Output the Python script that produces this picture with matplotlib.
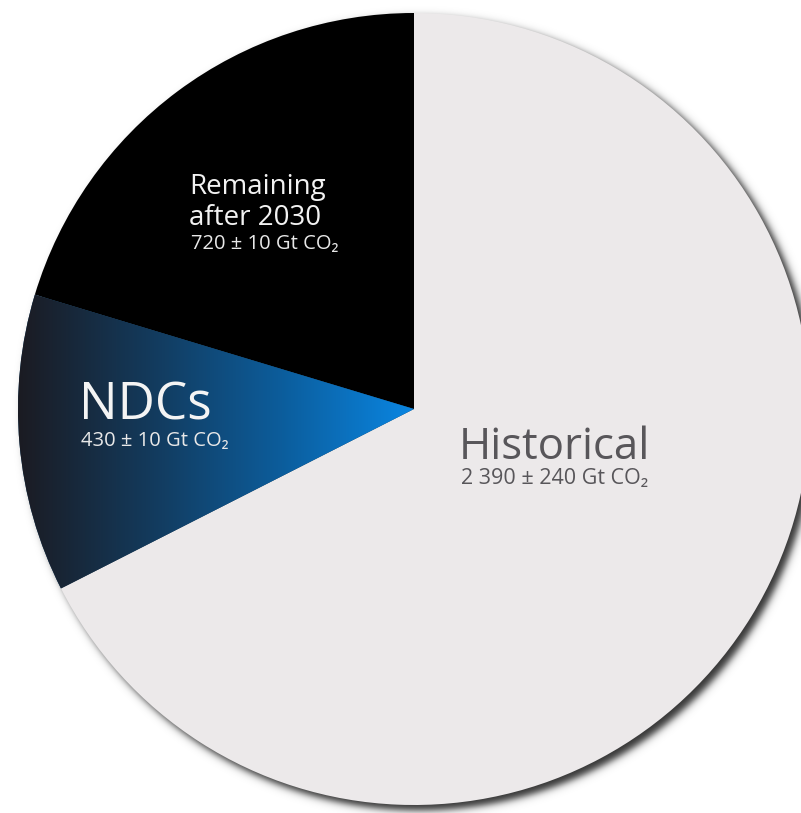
import numpy as np
import matplotlib.pyplot as plt
from matplotlib.colors import LinearSegmentedColormap

# slices, counter-clockwise from 12 o'clock
labels = ['Remaining\nafter 2030', 'NDCs', 'Historical']
values = [720, 430, 2390]
sublabels = ['720 ± 10 Gt CO₂', '430 ± 10 Gt CO₂', '2 390 ± 240 Gt CO₂']

W, H = 801, 813
cx, cy, R = 414, 404, 396  # pixel coords, y up

fig = plt.figure(figsize=(W / 100, H / 100), dpi=100)
ax = fig.add_axes([0, 0, 1, 1])

# soft drop shadow behind the disk
yy, xx = np.mgrid[0:H, 0:W]
d = np.hypot(xx - (cx + 5), (H - 1 - yy) - (cy - 6))
a = 0.8 * 0.5 * (1 - np.tanh((d - R) / 4.5))
shadow = np.zeros((H, W, 4))
shadow[..., 3] = a
ax.imshow(shadow, extent=(0, W, 0, H), origin='upper', zorder=0)

wedges, _ = ax.pie(values, startangle=90, counterclock=True,
                   center=(cx, cy), radius=R,
                   colors=['#000000', '#12466f', '#ece9ea'],
                   wedgeprops=dict(linewidth=0))
for w in wedges:
    w.set_zorder(1)

# horizontal gradient for the NDCs wedge
grad = np.linspace(0, 1, 256)[None, :]
cmap = LinearSegmentedColormap.from_list('ndc', ['#1b1b22', '#133a5c', '#0c5d9c', '#0a86e2'])
im = ax.imshow(grad, cmap=cmap, extent=(cx - R, cx, cy - 200, cy + 130),
               aspect='auto', zorder=2)
im.set_clip_path(wedges[1])

ax.set_xlim(0, W)
ax.set_ylim(0, H)
ax.set_aspect('equal')
ax.axis('off')

fam = ['Open Sans', 'DejaVu Sans']

# Remaining after 2030
ax.text(189, H - 225, labels[0], color='#f2f2f2', fontsize=20, family=fam,
        va='baseline', ha='left', linespacing=1.15)
ax.text(191, H - 249, sublabels[0], color='#e8e8e8', fontsize=14.5, family=fam,
        va='baseline', ha='left')

# NDCs
ax.text(79, H - 419, labels[1], color='#f4f4f4', fontsize=37, family=fam,
        va='baseline', ha='left')
ax.text(81, H - 446, sublabels[1], color='#e8e8e8', fontsize=14.5, family=fam,
        va='baseline', ha='left')

# Historical
ax.text(459, H - 459, labels[2], color='#58565a', fontsize=31.5, family=fam,
        va='baseline', ha='left')
ax.text(461, H - 484, sublabels[2], color='#58565a', fontsize=15.5, family=fam,
        va='baseline', ha='left')

fig.savefig('out.png', dpi=100, facecolor='white')
